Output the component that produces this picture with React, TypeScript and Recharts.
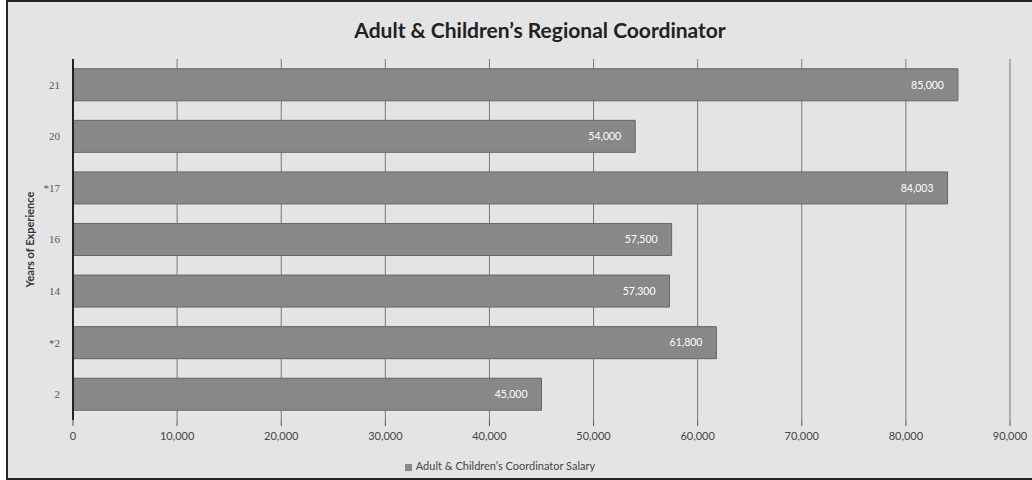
import { BarChart, Bar, XAxis, YAxis, CartesianGrid, Legend, LabelList } from "recharts"

const years = ["21", "20", "*17", "16", "14", "*2", "2"]
const salaries = [85000, 54000, 84003, 57500, 57300, 61800, 45000]
const xTicks = [0, 10000, 20000, 30000, 40000, 50000, 60000, 70000, 80000, 90000]

const data = years.map((y, i) => ({ years: y, salary: salaries[i] }))

const fmt = (v: number) => v.toLocaleString("en-US")

export default function App() {
  return (
    <div style={{ position: "fixed", left: 0, top: 0, width: 1032, height: 480, background: "#fff" }}>
      <div
        style={{
          position: "absolute",
          left: 6,
          top: 0,
          width: 1026,
          height: 476,
          borderLeft: "2px solid #222",
          borderTop: "2px solid #222",
          borderBottom: "2px solid #222",
          background: "#e4e4e4",
        }}
      />
      <div
        style={{
          position: "absolute",
          top: 17,
          left: 0,
          width: 1080,
          textAlign: "center",
          fontFamily: "Lato, sans-serif",
          fontWeight: 700,
          fontSize: 21,
          color: "#222",
        }}
      >
        Adult &amp; Children’s Regional Coordinator
      </div>
      <div style={{ position: "absolute", left: 0, top: 0 }}>
        <BarChart
          width={1032}
          height={480}
          data={data}
          layout="vertical"
          margin={{ top: 59, right: 22, left: 0, bottom: 27 }}
          barCategoryGap="19%"
        >
          <CartesianGrid horizontal={false} stroke="#777" />
          <XAxis
            type="number"
            domain={[0, 90000]}
            ticks={xTicks}
            tickFormatter={fmt}
            axisLine={false}
            tickLine={{ stroke: "#555" }}
            tickSize={6}
            tickMargin={6}
            height={20}
            tick={{ fontSize: 11, fill: "#444", fontFamily: "Lato, sans-serif" }}
          />
          <YAxis
            type="category"
            dataKey="years"
            width={73}
            axisLine={{ stroke: "#222", strokeWidth: 2 }}
            tickLine={false}
            tick={{ fontSize: 11, fill: "#555", fontFamily: "serif" }}
            tickMargin={7}
            label={{
              value: "Years of Experience",
              angle: -90,
              position: "insideLeft",
              offset: 30,
              style: { fontSize: 11, fontWeight: 700, fill: "#333", fontFamily: "Lato, sans-serif", textAnchor: "middle" },
            }}
          />
          <Legend
            verticalAlign="bottom"
            iconType="square"
            iconSize={7}
            wrapperStyle={{ bottom: 8, fontSize: 11, fontFamily: "Lato, sans-serif", color: "#444" }}
            formatter={() => <span style={{ color: "#444" }}>Adult &amp; Children’s Coordinator Salary</span>}
          />
          <Bar dataKey="salary" fill="#888" stroke="#666" isAnimationActive={false}>
            <LabelList
              dataKey="salary"
              position="insideRight"
              offset={14}
              formatter={(v: any) => fmt(Number(v))}
              style={{ fontSize: 10.5, fill: "#fff", fontFamily: "Lato, sans-serif" }}
            />
          </Bar>
        </BarChart>
      </div>
    </div>
  )
}
